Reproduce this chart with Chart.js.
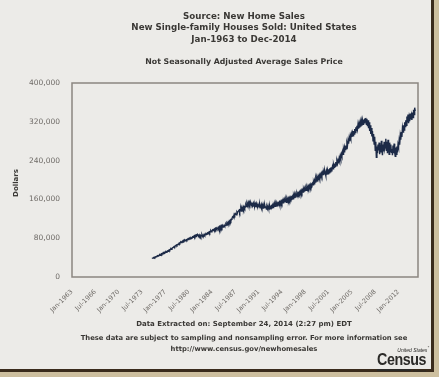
<!DOCTYPE html>
<html>
<head>
<meta charset="utf-8">
<script src="https://cdn.jsdelivr.net/npm/chart.js@4.4.1/dist/chart.umd.min.js"></script>
<style>
  html, body { margin: 0; padding: 0; background: #cdbf9f; }
  #frame { position: absolute; left: 0; top: 0; width: 431px; height: 369px; background: #ecebe8;
           border-right: 3px solid #3a2b1c; border-bottom: 3px solid #3a2b1c; }
  #chart { position: absolute; left: 0; top: 0; }
  .txt { position: absolute; left: 44px; width: 400px; text-align: center; white-space: nowrap;
         font-family: "DejaVu Sans", sans-serif; font-weight: bold; color: #3a3835; }
  #ylab { position: absolute; left: -4px; top: 179px; width: 40px; text-align: center; transform: rotate(-90deg);
          font-family: "DejaVu Sans", sans-serif; font-weight: bold; font-size: 7px; color: #3a3835; }
  #logo { position: absolute; left: 377px; top: 345px; width: 52px; font-family: "Liberation Sans", sans-serif; color: #2b2a28; }
</style>
</head>
<body>
<div id="frame"></div>
<canvas id="chart" width="439" height="377"></canvas>

<div class="txt" style="top:11px;font-size:8.7px;line-height:11.3px">Source: New Home Sales<br>New Single-family Houses Sold: United States<br>Jan-1963 to Dec-2014</div>
<div class="txt" style="top:57px;font-size:7.8px">Not Seasonally Adjusted Average Sales Price</div>
<div id="ylab">Dollars</div>
<div class="txt" style="top:320px;font-size:7px">Data Extracted on: September 24, 2014 (2:27 pm) EDT</div>
<div class="txt" style="top:333px;font-size:6.8px;line-height:10.5px">These data are subject to sampling and nonsampling error. For more information see<br>http://www.census.gov/newhomesales</div>
<div id="logo">
  <div style="font-size:5px;text-align:right;line-height:5px;font-style:italic">United States<sup>*</sup></div>
  <div style="font-size:17px;font-weight:bold;line-height:14px;letter-spacing:-0.5px;transform:scaleX(0.84);transform-origin:left">Census</div>
  <div style="display:flex;align-items:center;gap:2px;margin-top:1px"><div style="width:34px;height:2px;background:#2b2a28"></div><div style="font-size:4px">Bureau</div></div>
</div>

<script>
// average sales price, thousands of dollars, monthly from Jan-1975 to Jul-2014
const avgPrice = [
  38, 39, 39, 40, 41, 40, 41, 42, 42, 43, 44, 43,        // 1975
  44, 45, 46, 45, 47, 48, 47, 49, 48, 50, 49, 51,        // 1976
  51, 52, 51, 53, 54, 53, 55, 56, 55, 57, 58, 57,        // 1977
  59, 60, 61, 61, 63, 62, 64, 64, 66, 65, 67, 67,        // 1978
  68, 70, 69, 71, 72, 71, 73, 74, 72, 75, 74, 76,        // 1979
  75, 76, 77, 76, 78, 77, 79, 78, 80, 79, 81, 80,        // 1980
  81, 83, 82, 84, 85, 83, 86, 85, 87, 86, 88, 86,        // 1981
  85, 87, 84, 86, 83, 85, 87, 84, 86, 85, 88, 86,        // 1982
  87, 89, 88, 90, 91, 89, 92, 93, 91, 94, 95, 93,        // 1983
  95, 97, 96, 98, 99, 97, 100, 98, 101, 99, 100, 102,    // 1984
  100, 103, 99, 104, 101, 105, 102, 106, 103, 104, 107, 105, // 1985
  106, 109, 107, 111, 109, 113, 111, 115, 113, 117, 115, 119, // 1986
  120, 124, 125, 123, 129, 127, 131, 131, 128, 134, 132, 135, // 1987
  135, 138, 134, 139, 141, 136, 142, 139, 144, 140, 145, 142, // 1988
  145, 149, 146, 151, 147, 153, 148, 154, 150, 155, 151, 148, // 1989
  153, 147, 151, 145, 152, 146, 150, 144, 151, 147, 145, 150, // 1990
  147, 144, 150, 145, 143, 149, 144, 148, 142, 147, 143, 148, // 1991
  143, 146, 140, 145, 141, 147, 142, 140, 146, 141, 145, 147, // 1992
  145, 148, 143, 149, 146, 150, 146, 151, 147, 152, 149, 153, // 1993
  151, 154, 149, 155, 152, 156, 152, 157, 153, 158, 155, 159, // 1994
  156, 159, 154, 161, 157, 162, 158, 163, 159, 164, 161, 165, // 1995
  163, 166, 161, 168, 164, 169, 165, 170, 167, 172, 168, 173, // 1996
  170, 174, 170, 176, 172, 178, 174, 179, 175, 181, 177, 182, // 1997
  179, 183, 179, 185, 181, 187, 183, 188, 184, 190, 186, 191, // 1998
  189, 193, 190, 196, 192, 199, 196, 203, 198, 205, 201, 207, // 1999
  203, 209, 204, 211, 207, 213, 208, 215, 211, 217, 213, 219, // 2000
  214, 209, 218, 211, 220, 213, 222, 215, 224, 217, 226, 219, // 2001
  222, 228, 223, 231, 226, 234, 228, 237, 231, 239, 234, 241, // 2002
  238, 245, 240, 249, 244, 253, 249, 258, 253, 263, 258, 267, // 2003
  263, 271, 265, 276, 271, 281, 275, 286, 280, 291, 286, 295, // 2004
  289, 297, 291, 301, 295, 305, 298, 309, 302, 312, 305, 315, // 2005
  306, 315, 308, 319, 310, 321, 312, 323, 315, 325, 318, 327, // 2006
  320, 328, 315, 326, 311, 323, 307, 319, 301, 313, 295, 307, // 2007
  290, 301, 281, 295, 274, 289, 261, 279, 247, 269, 255, 273, // 2008
  261, 277, 253, 271, 257, 281, 263, 251, 273, 259, 279, 265, // 2009
  270, 285, 261, 279, 255, 283, 267, 253, 277, 259, 273, 257, // 2010
  264, 251, 271, 255, 275, 257, 249, 267, 253, 269, 257, 273, // 2011
  268, 281, 273, 291, 283, 299, 289, 307, 299, 313, 303, 319, // 2012
  310, 323, 313, 331, 319, 335, 317, 329, 321, 337, 325, 333, // 2013
  324, 339, 329, 345, 335, 349, 342                          // 2014
];
const firstMonth = 144;   // Jan-1975, counted in months from Jan-1963
const lastAxisMonth = 623; // Dec-2014

const tickMonths = [0, 42, 84, 126, 168, 210, 252, 294, 336, 378, 420, 462, 504, 546, 588];
const tickLabels = ['Jan-1963', 'Jul-1966', 'Jan-1970', 'Jul-1973', 'Jan-1977', 'Jul-1980', 'Jan-1984',
  'Jul-1987', 'Jan-1991', 'Jul-1994', 'Jan-1998', 'Jul-2001', 'Jan-2005', 'Jul-2008', 'Jan-2012'];
const yTicks = [0, 80000, 160000, 240000, 320000, 400000];

const points = avgPrice.map((v, i) => ({ x: firstMonth + i, y: v * 1000 }));

// box round the plot area
const plotBox = {
  id: 'plotBox',
  afterDatasetsDraw(chart) {
    const a = chart.chartArea, c = chart.ctx;
    c.save();
    c.strokeStyle = '#8b8680';
    c.lineWidth = 1.5;
    c.strokeRect(a.left, a.top, a.right - a.left, a.bottom - a.top);
    c.restore();
  }
};

const ctx = document.getElementById('chart').getContext('2d');
const priceChart = new Chart(ctx, {
  type: 'line',
  data: {
    datasets: [{
      data: points,
      borderColor: '#1c2a47',
      borderWidth: 1.4,
      pointRadius: 0,
      tension: 0
    }]
  },
  options: {
    responsive: false,
    animation: false,
    devicePixelRatio: 1,
    layout: { padding: { top: 83, right: 21, left: 0, bottom: 0 } },
    plugins: { legend: { display: false }, tooltip: { enabled: false } },
    scales: {
      x: {
        type: 'linear',
        min: 0,
        max: lastAxisMonth,
        grid: { display: false },
        border: { display: false },
        afterBuildTicks: s => { s.ticks = tickMonths.map(v => ({ value: v })); },
        afterFit: s => { s.height = 100; },
        ticks: {
          autoSkip: false,
          minRotation: 45,
          maxRotation: 45,
          padding: 3,
          color: '#6f6b67',
          font: { family: 'DejaVu Sans', size: 6.5 },
          callback: v => tickLabels[tickMonths.indexOf(v)]
        }
      },
      y: {
        min: 0,
        max: 400000,
        grid: { display: false },
        border: { display: false },
        afterBuildTicks: s => { s.ticks = yTicks.map(v => ({ value: v })); },
        afterFit: s => { s.width = 72; },
        ticks: {
          padding: 4,
          color: '#6f6b67',
          font: { family: 'DejaVu Sans', size: 7.5 },
          callback: v => v.toLocaleString('en-US')
        }
      }
    }
  },
  plugins: [plotBox]
});
</script>
</body>
</html>
